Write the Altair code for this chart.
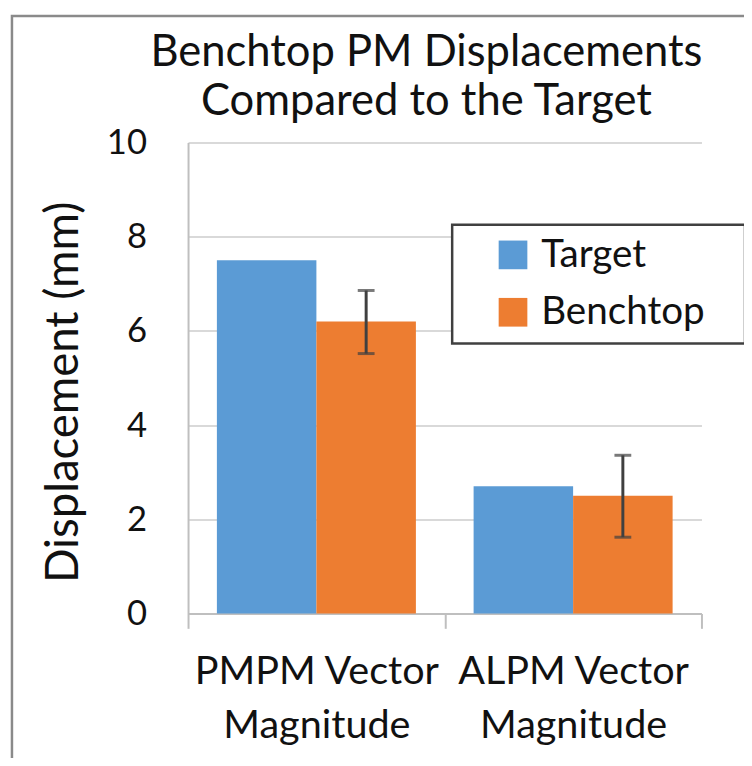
import altair as alt
import pandas as pd

title_lines = ["Benchtop PM Displacements", "Compared to the Target"]
categories = ["PMPM Vector Magnitude", "ALPM Vector Magnitude"]
series = ["Target", "Benchtop"]
colors = ["#5B9BD5", "#ED7D31"]
target_values = [7.5, 2.7]
benchtop_values = [6.2, 2.5]
benchtop_err_low = [5.52, 1.62]
benchtop_err_high = [6.86, 3.36]
y_ticks = [0, 2, 4, 6, 8, 10]

rows = []
for i, c in enumerate(categories):
    rows.append({"cat": c, "series": "Target", "value": target_values[i]})
    rows.append({"cat": c, "series": "Benchtop", "value": benchtop_values[i]})
df = pd.DataFrame(rows)
err = pd.DataFrame({
    "cat": categories,
    "series": ["Benchtop"] * len(categories),
    "lo": benchtop_err_low,
    "hi": benchtop_err_high,
})

FONT = "Lato"
TXT = "#111111"

x_enc = alt.X(
    "cat:N", sort=categories,
    scale=alt.Scale(paddingInner=0, paddingOuter=0),
    axis=alt.Axis(
        title=None, labelAngle=0, tickBand="extent",
        domainColor="#bfbfbf", domainWidth=2,
        tickColor="#bfbfbf", tickWidth=2, tickSize=15,
        labelFont=FONT, labelFontSize=40, labelColor=TXT,
        labelPadding=24, labelLineHeight=54, labelLimit=400,
        labelExpr="datum.label ? [replace(datum.label, ' Magnitude', ''), 'Magnitude'] : ''",
        grid=False,
    ),
)
xoff = alt.XOffset(
    "series:N", sort=series,
    scale=alt.Scale(domain=series, paddingOuter=0.29, paddingInner=0),
)
y_scale = alt.Scale(domain=[0, 10], nice=False)

bars = alt.Chart(df).mark_bar().encode(
    x=x_enc,
    xOffset=xoff,
    y=alt.Y(
        "value:Q", scale=y_scale,
        axis=alt.Axis(
            values=y_ticks, title="Displacement (mm)",
            titleFont=FONT, titleFontSize=46, titleFontWeight="normal",
            titleColor=TXT, titleX=-126, titleY=252,
            titleBaseline="middle", titleAlign="center", titleAngle=270,
            labelFont=FONT, labelFontSize=35, labelColor=TXT,
            labelPadding=42, ticks=False, tickSize=0,
            domainColor="#bfbfbf", domainWidth=2,
            gridColor="#d9d9d9", gridWidth=2,
        ),
    ),
    color=alt.Color(
        "series:N", sort=series,
        scale=alt.Scale(domain=series, range=colors),
        legend=alt.Legend(
            title=None, orient="none", legendX=267, legendY=83,
            symbolType="square", symbolSize=841, symbolStrokeWidth=0,
            symbolOffset=31,
            labelFont=FONT, labelFontSize=39, labelColor=TXT, labelOffset=9,
            labelLimit=400,
            labelExpr="datum.label + '\u2800'",
            padding=11, rowPadding=18,
            strokeColor="#404040", fillColor="white",
        ),
    ),
)

rule = alt.Chart(err).mark_rule(color="#404040", strokeWidth=3).encode(
    x=alt.X("cat:N", sort=categories),
    xOffset=alt.XOffset("series:N", sort=series),
    y=alt.Y("lo:Q", scale=y_scale),
    y2="hi:Q",
)
cap_lo = alt.Chart(err).mark_tick(color="#404040", thickness=3, size=17).encode(
    x=alt.X("cat:N", sort=categories),
    xOffset=alt.XOffset("series:N", sort=series),
    y=alt.Y("lo:Q", scale=y_scale),
)
cap_hi = alt.Chart(err).mark_tick(color="#404040", thickness=3, size=17).encode(
    x=alt.X("cat:N", sort=categories),
    xOffset=alt.XOffset("series:N", sort=series),
    y=alt.Y("hi:Q", scale=y_scale),
)

border = alt.Chart(pd.DataFrame({"b": [0]})).mark_rect(
    fillOpacity=0, stroke="#8a8a8a", strokeWidth=2.5
).encode(
    x=alt.value(-178), x2=alt.value(720),
    y=alt.value(-128), y2=alt.value(720),
)

title = alt.Chart(pd.DataFrame({"t": [0]})).mark_text(
    text=title_lines, font=FONT, fontSize=44, color=TXT,
    align="center", baseline="alphabetic", lineHeight=49,
).encode(x=alt.value(241), y=alt.value(-77))

chart = alt.layer(border, title, bars, rule, cap_lo, cap_hi).properties(
    width=519, height=476,
    autosize=alt.AutoSizeParams(type="none"),
    padding={"left": 182, "top": 132, "right": 43, "bottom": 142},
).configure_view(strokeWidth=0).configure_legend(strokeWidth=2.5)

chart.save("out.html", embed_options={"renderer": "svg", "actions": False})
